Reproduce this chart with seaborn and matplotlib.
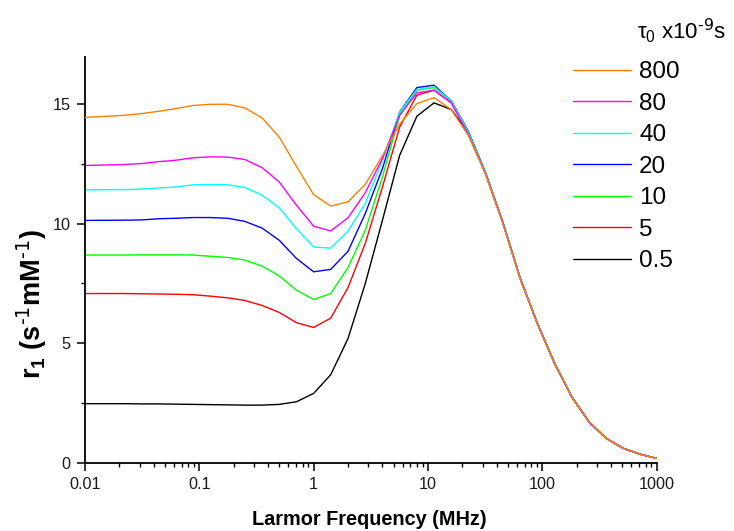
import numpy as np
import pandas as pd
import matplotlib
matplotlib.use("Agg")
import matplotlib.pyplot as plt
from matplotlib.ticker import FixedLocator, MultipleLocator, LogLocator, NullFormatter
import seaborn as sns

# Larmor frequencies (MHz) of the computed profile
freq = [0.01, 0.0221, 0.03125, 0.0442, 0.0625, 0.0884, 0.125, 0.177, 0.25, 0.354,
        0.5, 0.707, 1.0, 1.41, 2.0, 2.83, 4.0, 5.66, 8.0, 11.3, 16.0, 22.6, 32.0,
        45.3, 64.0, 90.5, 128.0, 181.0, 256.0, 362.0, 512.0, 724.0, 1000.0]

# relaxivity r1 (s^-1 mM^-1) for each rotational correlation time tau0 (x1e-9 s)
r1_800 = [14.45, 14.54, 14.61, 14.71, 14.82, 14.95, 15.00, 15.00, 14.85, 14.43,
          13.63, 12.40, 11.22, 10.74, 10.92, 11.65, 12.85, 14.17, 15.03, 15.28,
          14.78, 13.68, 12.05, 10.00, 7.71, 5.83, 4.16, 2.76, 1.71, 1.02, 0.60, 0.35, 0.18]
r1_80 = [12.44, 12.48, 12.52, 12.60, 12.66, 12.76, 12.80, 12.79, 12.69, 12.35,
         11.75, 10.78, 9.90, 9.70, 10.25, 11.30, 12.73, 14.54, 15.48, 15.59,
         15.06, 13.72, 12.07, 10.02, 7.72, 5.83, 4.16, 2.76, 1.71, 1.02, 0.60, 0.35, 0.18]
r1_40 = [11.42, 11.43, 11.45, 11.50, 11.54, 11.63, 11.64, 11.63, 11.52, 11.20,
         10.67, 9.80, 9.03, 8.98, 9.69, 10.85, 12.66, 14.68, 15.62, 15.73,
         15.14, 13.82, 12.11, 10.05, 7.73, 5.84, 4.16, 2.76, 1.71, 1.02, 0.60, 0.35, 0.18]
r1_20 = [10.14, 10.15, 10.16, 10.21, 10.23, 10.26, 10.26, 10.23, 10.10, 9.82,
         9.31, 8.55, 7.99, 8.09, 8.85, 10.43, 12.31, 14.68, 15.70, 15.80,
         15.14, 13.85, 12.12, 10.05, 7.73, 5.84, 4.16, 2.76, 1.71, 1.02, 0.60, 0.35, 0.18]
r1_10 = [8.69, 8.69, 8.70, 8.70, 8.70, 8.69, 8.64, 8.59, 8.48, 8.23,
         7.82, 7.22, 6.83, 7.08, 8.17, 9.73, 11.96, 14.54, 15.59, 15.70,
         15.14, 13.85, 12.12, 10.05, 7.73, 5.84, 4.16, 2.76, 1.71, 1.02, 0.60, 0.35, 0.18]
r1_5 = [7.08, 7.08, 7.07, 7.06, 7.05, 7.03, 6.97, 6.90, 6.79, 6.58,
        6.29, 5.86, 5.66, 6.05, 7.33, 9.18, 11.54, 14.05, 15.38, 15.59,
        15.06, 13.82, 12.10, 10.04, 7.73, 5.84, 4.16, 2.76, 1.71, 1.02, 0.60, 0.35, 0.18]
r1_05 = [2.47, 2.47, 2.46, 2.46, 2.45, 2.44, 2.43, 2.42, 2.41, 2.41,
         2.44, 2.55, 2.90, 3.68, 5.20, 7.50, 10.15, 12.87, 14.50, 15.06,
         14.78, 13.80, 12.08, 10.03, 7.72, 5.83, 4.16, 2.76, 1.71, 1.02, 0.60, 0.35, 0.18]

tau_labels = ["800", "80", "40", "20", "10", "5", "0.5"]
series = [r1_800, r1_80, r1_40, r1_20, r1_10, r1_5, r1_05]
colors = ["#FF8000", "#FF00FF", "#00FFFF", "#0000FF", "#00FF00", "#FF0000", "#000000"]

xticks = [0.01, 0.1, 1, 10, 100, 1000]
xtick_labels = ["0.01", "0.1", "1", "10", "100", "1000"]
yticks = [0, 5, 10, 15]

df = pd.concat(
    [pd.DataFrame({"freq": freq, "r1": vals, "tau": lab}) for lab, vals in zip(tau_labels, series)],
    ignore_index=True,
)

sns.set_theme(style="ticks")
plt.rcParams["font.family"] = ["Liberation Sans", "DejaVu Sans"]
plt.rcParams["mathtext.default"] = "regular"

fig = plt.figure(figsize=(7.34, 5.31), dpi=100)
ax = fig.add_axes([85 / 734, 1 - 462.7 / 531, (656.6 - 85) / 734, (462.7 - 56.5) / 531])

sns.lineplot(data=df, x="freq", y="r1", hue="tau", hue_order=tau_labels,
             palette=dict(zip(tau_labels, colors)), estimator=None, sort=False,
             linewidth=1.0, legend=False, ax=ax)

# low-tau curves underneath, the slowest rotor on top
n = len(ax.lines)
for i, ln in enumerate(ax.lines):
    ln.set_zorder(2 + (n - i) * 0.01 if i != 0 else 3)

ax.set_xscale("log")
ax.set_xlim(0.01, 1000)
ax.set_ylim(0, 17)
ax.xaxis.set_major_locator(FixedLocator(xticks))
ax.set_xticklabels(xtick_labels)
ax.xaxis.set_minor_locator(LogLocator(base=10, subs=np.arange(2, 10)))
ax.xaxis.set_minor_formatter(NullFormatter())
ax.yaxis.set_major_locator(FixedLocator(yticks))
ax.yaxis.set_minor_locator(MultipleLocator(2.5))

for side in ("top", "right"):
    ax.spines[side].set_visible(False)
for side in ("left", "bottom"):
    ax.spines[side].set_linewidth(1.3)
    ax.spines[side].set_color("black")

ax.tick_params(axis="both", which="major", direction="out", length=6, width=1.1,
               color="black", labelsize=11.7, labelcolor="#1a1a1a")
ax.tick_params(axis="both", which="minor", direction="out", length=3.2, width=1.0, color="black")
ax.tick_params(axis="x", which="major", pad=4.5)
ax.tick_params(axis="y", which="major", pad=4.5)
ax.set_xlabel("")
ax.set_ylabel("")
ax.grid(False)

fig.text(369 / 734, 1 - 519.5 / 531, "Larmor Frequency (MHz)", ha="center", va="center",
         fontsize=14.3, fontweight="bold", color="black")
fig.text(32 / 734, 1 - 304 / 531, r"r$_1$ (s$^{\text{-1}}$mM$^{\text{-1}}$)", ha="center",
         va="center", rotation=90, fontsize=19.5, fontweight="bold", color="black")

leg = ax.legend(ax.lines, tau_labels, loc="upper left",
                bbox_to_anchor=(573 / 734, 1 - 61.4 / 531), bbox_transform=fig.transFigure,
                frameon=False, fontsize=17.5, handlelength=2.39, handletextpad=0.33,
                labelspacing=0.39, borderpad=0, borderaxespad=0)
for t in leg.get_texts():
    t.set_color("black")
fig.text(637 / 734, 1 - 39 / 531, r"τ$_0$ x10$^{\text{-9}}$s", ha="left", va="baseline",
         fontsize=16, color="black")

fig.savefig("out.png", dpi=100, facecolor="white")
